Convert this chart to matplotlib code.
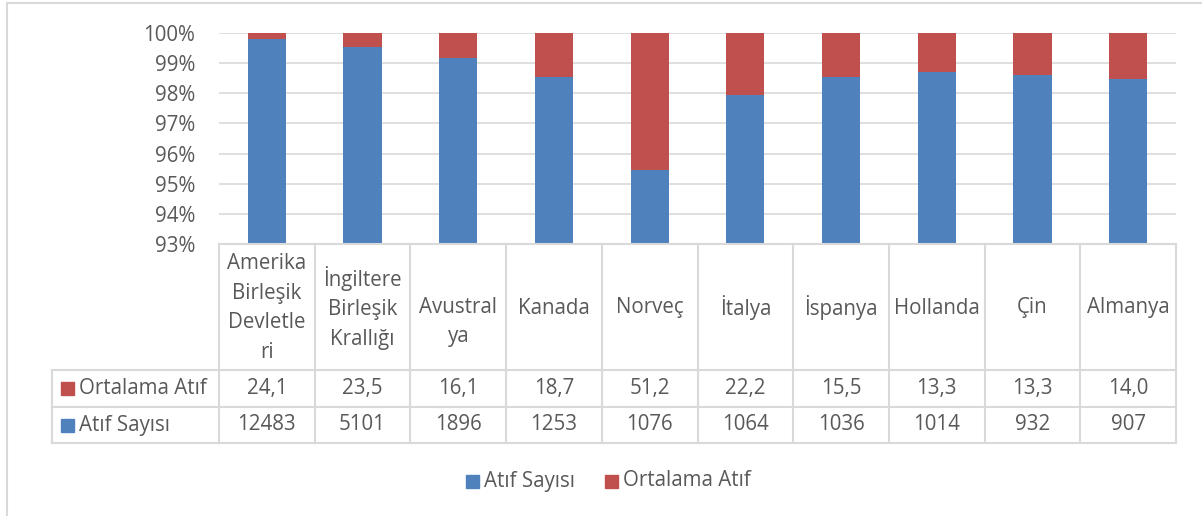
import matplotlib.pyplot as plt
import numpy as np
from matplotlib.patches import Rectangle
from matplotlib.lines import Line2D

plt.rcParams['font.family'] = ['Open Sans', 'DejaVu Sans']

# data
countries = ['Amerika\nBirleşik\nDevletle\nri', 'İngiltere\nBirleşik\nKrallığı', 'Avustral\nya',
             'Kanada', 'Norveç', 'İtalya', 'İspanya', 'Hollanda', 'Çin', 'Almanya']
atif_sayisi = [12483, 5101, 1896, 1253, 1076, 1064, 1036, 1014, 932, 907]
ortalama_atif = [24.1, 23.5, 16.1, 18.7, 51.2, 22.2, 15.5, 13.3, 13.3, 14.0]
ort_labels = ['24,1', '23,5', '16,1', '18,7', '51,2', '22,2', '15,5', '13,3', '13,3', '14,0']

blue = '#4F81BD'
red = '#C0504D'
grid_c = '#D9D9D9'
txt_c = '#595959'

W, H = 1202, 516
fig = plt.figure(figsize=(W / 100, H / 100), dpi=100)

# pixel helpers
def fx(px):
    return px / W

def fy(py):
    return 1 - py / H

left, right, top, bottom = 219, 1176, 33, 244
ax = fig.add_axes([fx(left), fy(bottom), fx(right) - fx(left), fy(top) - fy(bottom)])

n = len(countries)
x = np.arange(n)
cnt = np.array(atif_sayisi, dtype=float)
avg = np.array(ortalama_atif)
tot = cnt + avg
p_cnt = cnt / tot * 100
p_avg = avg / tot * 100

ax.bar(x, p_cnt, width=0.4, color=blue, zorder=3)
ax.bar(x, p_avg, width=0.4, bottom=p_cnt, color=red, zorder=3)

fs = 14.8
ax.set_xlim(-0.5, n - 0.5)
ax.set_ylim(93, 100)
ax.set_yticks(range(93, 101))
ax.set_yticklabels([f'{v}%' for v in range(93, 101)], fontsize=fs, color=txt_c)
ax.tick_params(axis='y', length=0, pad=17)
ax.set_xticks([])
for s in ax.spines.values():
    s.set_visible(False)
ax.yaxis.grid(True, color=grid_c, linewidth=1.2, zorder=0)

# outer chart border
fig.add_artist(Rectangle((fx(6.5), fy(700)), fx(1400), fy(3) - fy(700), fill=False,
                         edgecolor=grid_c, linewidth=1.5, transform=fig.transFigure))

# data table
col_w = (right - left) / n
y_head_bot = 370
y_r1_bot = 407
y_r2_bot = 443
lbl_left = 52
lw = 1.5

def hline(x0, x1, y):
    fig.add_artist(Line2D([fx(x0), fx(x1)], [fy(y), fy(y)], color=grid_c, lw=lw))

def vline(xp, y0, y1):
    fig.add_artist(Line2D([fx(xp), fx(xp)], [fy(y0), fy(y1)], color=grid_c, lw=lw))

hline(left, right, bottom)
hline(lbl_left, right, y_head_bot)
hline(lbl_left, right, y_r1_bot)
hline(lbl_left, right, y_r2_bot)
for i in range(n + 1):
    vline(left + i * col_w, bottom, y_r2_bot)
vline(lbl_left, y_head_bot, y_r2_bot)

for i in range(n):
    cx = left + (i + 0.5) * col_w
    # Excel puts an even line count half a line lower
    off = 14 if countries[i].count('\n') % 2 == 1 and countries[i].count('\n') < 3 else 0
    fig.text(fx(cx), fy((bottom + y_head_bot) / 2 + 1 + off), countries[i], ha='center', va='center',
             fontsize=fs, color=txt_c, linespacing=1.55)
    fig.text(fx(cx), fy((y_head_bot + y_r1_bot) / 2), ort_labels[i], ha='center', va='center',
             fontsize=fs, color=txt_c)
    fig.text(fx(cx), fy((y_r1_bot + y_r2_bot) / 2), str(atif_sayisi[i]), ha='center', va='center',
             fontsize=fs, color=txt_c)

# row labels with keys
for yc, name, col in [((y_head_bot + y_r1_bot) / 2, 'Ortalama Atıf', red),
                      ((y_r1_bot + y_r2_bot) / 2, 'Atıf Sayısı', blue)]:
    fig.add_artist(Rectangle((fx(61), fy(yc + 6.5)), fx(13), fy(yc - 6.5) - fy(yc + 6.5),
                             color=col, transform=fig.transFigure))
    fig.text(fx(79), fy(yc), name, ha='left', va='center', fontsize=fs, color=txt_c)

# legend
ly = 481
for x0, name, col in [(466, 'Atıf Sayısı', blue), (605, 'Ortalama Atıf', red)]:
    fig.add_artist(Rectangle((fx(x0), fy(ly + 6.5)), fx(13), fy(ly - 6.5) - fy(ly + 6.5),
                             color=col, transform=fig.transFigure))
    fig.text(fx(x0 + 18), fy(ly), name, ha='left', va='center', fontsize=fs, color=txt_c)

fig.savefig('out.png', dpi=100)
